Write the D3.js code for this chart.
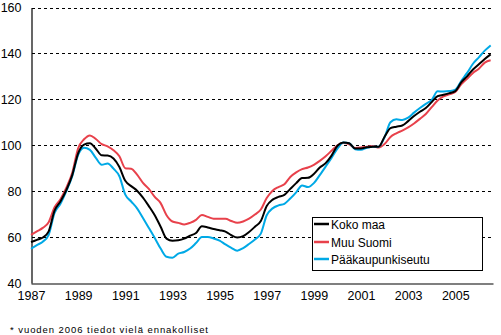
<!DOCTYPE html>
<html>
<head>
<meta charset="utf-8">
<script src="https://cdn.jsdelivr.net/npm/d3@7"></script>
<style>
  html, body { margin: 0; padding: 0; background: #fff; }
  svg { display: block; }
  text { font-family: "Liberation Sans", Arial, sans-serif; }
</style>
</head>
<body>
<div id="chart"></div>
<script>
// ---- data (quarterly, index 2000 = 100) ----
const startYear = 1987;
const seriesNames = ["Koko maa", "Muu Suomi", "Pääkaupunkiseutu"];
const seriesColors = ["#000000", "#e8414b", "#00a9e6"];

const kokoMaa = [
  57.8, 58.8, 59.8, 62.5, 71.5, 75.5, 80.5, 87.0,
  96.5, 100.3, 100.9, 98.5, 95.6, 95.5, 94.2, 90.5,
  84.5, 82.2, 80.2, 77.2, 73.5, 69.5, 64.5, 59.3,
  58.4, 58.6, 59.3, 60.6, 61.8, 64.7, 64.2, 63.5,
  63.0, 62.4, 60.8, 59.8, 60.4, 62.2, 64.5, 67.0,
  73.5, 76.3, 77.5, 78.4, 81.0, 83.5, 85.7, 85.8,
  87.5, 90.3, 92.2, 95.5, 99.8, 101.2, 100.9, 98.6,
  98.6, 99.1, 99.4, 99.4, 103.7, 107.5, 108.1, 108.6,
  110.5, 112.7, 114.6, 116.2, 118.8, 121.4, 122.0, 122.7,
  123.6, 127.4, 130.0, 133.0, 135.3, 137.6, 139.6
];
const muuSuomi = [
  61.0, 62.5, 64.0, 66.5, 73.0, 76.5, 81.5, 88.0,
  98.7, 102.6, 104.3, 102.7, 100.5, 99.5, 97.8, 95.2,
  90.0, 89.8, 87.2, 83.6, 81.0, 77.5, 74.8, 69.5,
  66.8, 66.2, 65.5, 66.2, 67.5, 69.6, 68.8, 68.0,
  68.0, 68.0, 67.0, 66.2, 66.8, 68.0, 69.8, 72.0,
  77.0, 80.2, 81.8, 83.0, 86.2, 88.2, 89.6, 90.3,
  91.5, 93.2, 95.2, 97.6, 100.0, 101.0, 100.4, 98.8,
  99.0, 99.4, 99.7, 99.0, 100.5, 103.6, 105.2, 106.4,
  107.8, 109.5, 111.5, 113.6, 116.6, 119.5, 121.3, 122.2,
  123.2, 126.5, 129.0, 131.5, 133.3, 136.0, 137.0
];
const paakaupunkiseutu = [
  54.9, 56.5, 58.0, 61.0, 70.5, 74.5, 80.0, 86.5,
  95.8, 98.9, 98.0, 94.5, 91.5, 92.1, 89.8, 86.5,
  78.5, 75.5, 72.5, 68.3, 64.0, 59.6, 55.0, 51.4,
  51.0, 52.8, 53.5, 55.0, 57.4, 60.0, 60.0, 59.4,
  58.5, 56.8, 55.3, 54.1, 55.2, 57.0, 59.0, 61.5,
  69.5, 72.5, 73.8, 74.5, 76.8, 79.5, 82.5, 81.8,
  83.5, 87.0, 90.7, 94.5, 98.5, 101.2, 100.9, 98.3,
  98.0, 98.9, 99.4, 99.4, 103.5, 110.0, 111.3, 111.0,
  112.0, 114.2, 116.2, 118.0, 119.7, 123.5, 123.4, 123.6,
  124.2, 128.0, 131.5, 135.5, 138.3, 141.2, 143.5
];
const xTickLabels = ["1987","1989","1991","1993","1995","1997","1999","2001","2003","2005"];
const yTicks = [40, 60, 80, 100, 120, 140, 160];
const footnote = "* vuoden 2006 tiedot vielä ennakolliset";

// ---- layout ----
const W = 501, H = 335;
const plotL = 31, plotR = 493, plotT = 7.5, plotB = 283;

const svg = d3.select("#chart").append("svg")
  .attr("width", W).attr("height", H);

const x = d3.scaleLinear().domain([1987, 2006.6]).range([plotL, plotR]);
const y = d3.scaleLinear().domain([40, 160]).range([plotB, plotT]);

// gridlines
svg.append("g").selectAll("line")
  .data(yTicks.filter(d => d > 40))
  .join("line")
  .attr("x1", plotL + 1).attr("x2", plotR)
  .attr("y1", d => Math.round(y(d)) + 0.5).attr("y2", d => Math.round(y(d)) + 0.5)
  .attr("stroke", "#000").attr("stroke-width", 1)
  .attr("stroke-dasharray", "3,3");

// y axis
const yAxis = d3.axisLeft(y).tickValues(yTicks).tickSize(0).tickPadding(10);
const gy = svg.append("g").attr("transform", `translate(${plotL + 0.5},0)`).call(yAxis);
gy.select(".domain").attr("stroke", "#000").attr("stroke-width", 1.2);
gy.selectAll("text").attr("font-size", 12.5).attr("fill", "#000")
  .attr("font-family", "'Liberation Sans', Arial, sans-serif");

// x axis
const xAxis = d3.axisBottom(x).tickValues(xTickLabels.map(Number))
  .tickFormat(d => String(d)).tickSize(0).tickPadding(8);
const gx = svg.append("g").attr("transform", `translate(0,${plotB + 0.5})`).call(xAxis);
gx.select(".domain").attr("stroke", "#000").attr("stroke-width", 1.2);
gx.selectAll("text").attr("font-size", 12.5).attr("fill", "#000")
  .attr("font-family", "'Liberation Sans', Arial, sans-serif");

// lines
const allSeries = [muuSuomi, paakaupunkiseutu, kokoMaa];
const allColors = [seriesColors[1], seriesColors[2], seriesColors[0]];
const line = d3.line()
  .x((d, i) => x(startYear + i * 0.25))
  .y(d => y(d))
  .curve(d3.curveMonotoneX);
svg.append("g").selectAll("path")
  .data(allSeries)
  .join("path")
  .attr("d", d => line(d))
  .attr("fill", "none")
  .attr("stroke", (d, i) => allColors[i])
  .attr("stroke-width", 2)
  .attr("stroke-linejoin", "round");

// legend
const lg = svg.append("g");
lg.append("rect").attr("x", 312.5).attr("y", 217.5).attr("width", 170).attr("height", 53)
  .attr("fill", "#fff").attr("stroke", "#000").attr("stroke-width", 1);
const legendY = [224, 242, 259];
seriesNames.forEach((name, i) => {
  lg.append("line").attr("x1", 314).attr("x2", 329)
    .attr("y1", legendY[i]).attr("y2", legendY[i])
    .attr("stroke", seriesColors[i]).attr("stroke-width", 2.5);
  lg.append("text").attr("x", 331).attr("y", legendY[i] + 4.5)
    .attr("font-size", 12).attr("fill", "#000").text(name);
});

// footnote
svg.append("text").attr("x", 10).attr("y", 333)
  .attr("font-size", 9.5).attr("fill", "#000")
  .attr("textLength", 198).attr("lengthAdjust", "spacing")
  .text(footnote);
</script>
</body>
</html>
